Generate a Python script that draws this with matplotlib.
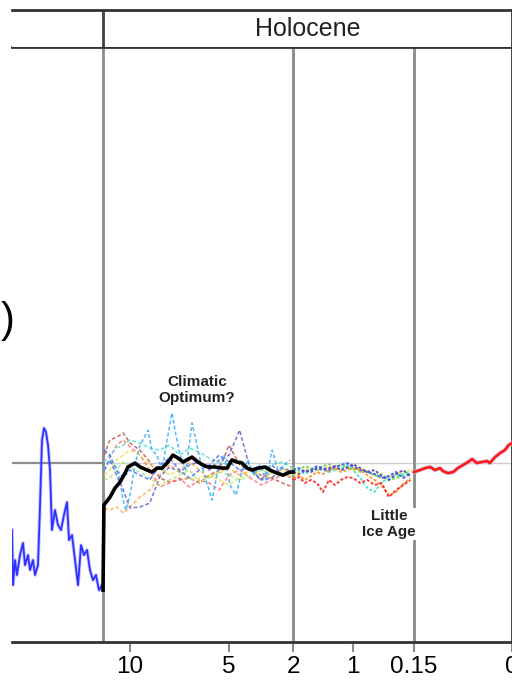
import numpy as np
import matplotlib.pyplot as plt

plt.rcParams['font.family'] = ['Liberation Sans', 'DejaVu Sans']

# broken time axis: thousands of years ago -> position along the axis
brk_kyr = [200, 12, 10, 5, 2, 1, 0.15, 0]
brk_pos = [12, 103, 130, 229, 293, 353, 414, 512]


# increasing in kyr, the axis itself is inverted below
def fwd(k):
    return 524 - np.interp(-np.asarray(k, float), [-b for b in brk_kyr], brk_pos)


def inv(p):
    return np.interp(524 - np.asarray(p, float), brk_pos, brk_kyr)


# ice core (previous panel), kyr ago / anomaly degC
ice_t = [200, 197.9, 193.8, 189.7, 183.5, 177.3, 173.1, 166.9, 162.8, 156.6, 152.5, 146.3,
         142.2, 138.0, 133.9, 129.8, 125.6, 121.5, 117.4, 111.2, 105.0, 98.8, 92.6, 86.4,
         82.2, 76.0, 69.8, 63.6, 57.4, 51.2, 45.0, 38.9, 32.7, 26.5, 20.3, 14.1]
ice_v = [-3.72, -6.78, -5.39, -6.22, -5.11, -4.44, -5.67, -5.11, -5.94, -5.39, -6.22, -5.67,
         -2.44, 1.28, 1.94, 1.72, 1.0, -0.39, -3.72, -2.61, -3.44, -3.72, -2.89, -2.17,
         -4.28, -4.0, -5.39, -6.78, -4.56, -5.11, -4.83, -5.94, -6.5, -6.22, -7.06, -6.78]

# holocene proxies 12 - 2 kyr
holo_t = [11.9, 11.5, 11, 10.5, 10, 9.5, 9, 8.5, 8, 7.5, 7, 6.5, 6, 5.5, 5, 4.5, 4, 3.5, 3, 2.5, 2.0]
firebrick = [0.44, 1.28, 1.44, 1.67, 1.11, 0.72, 0.06, -0.83, -1.06, -0.94, -0.83, -1.11, -0.67,
             -0.39, 1.0, -0.11, -0.39, -0.67, -0.83, -1.11, -1.33]
salmon = [-0.39, 0.28, 1.0, 1.28, 0.89, 0.44, -0.39, -1.33, -1.11, -0.83, -1.33, -0.94, -1.11,
          -1.5, -0.67, -0.39, -0.83, -1.22, -0.94, -0.67, -0.83]
orange = [-2.5, -2.61, -2.44, -2.78, -2.44, -1.89, -1.5, -0.67, -0.11, -0.39, 0.06, -0.39, -0.83,
          -0.5, -0.28, -0.67, -0.39, -0.94, -0.5, -0.39, -0.28]
slate = [-0.39, 0.17, -0.67, -1.5, -2.5, -2.44, -2.22, -0.78, -0.22, -0.5, -0.11, 0.06, -0.39,
         0.17, 0.44, 1.83, -0.39, -0.94, -0.11, -0.67, -0.39]
turq = [0.06, 0.44, 0.83, 1.0, 1.28, 1.11, 0.83, 0.72, 1.0, 0.44, 0.83, 0.61, 0.28, 0.06, -0.11,
        0.17, -0.28, -0.39, -0.11, 0.06, -0.28]
yellow = [-0.67, -0.39, 0.17, 0.44, 0.72, 0.44, -0.11, -0.28, -0.67, -0.39, -0.94, -0.83, -0.67,
          -0.94, -1.22, -0.83, -0.39, -0.67, -0.83, -0.5, -0.39]
lime = [-0.94, -0.83, -0.39, 0.06, -0.28, -0.5, -0.83, -1.22, -0.94, -0.67, -0.39, -1.06, -0.83,
        -0.5, -0.67, -0.94, -0.72, -0.39, -0.56, -0.72, -0.67]
blue = [0.72, 0.44, -0.39, -0.83, -0.39, -0.67, -0.94, -0.11, 0.28, -0.39, -0.83, -0.39, -0.11,
        0.44, 0.06, -0.39, -0.28, -0.94, -0.83, -0.28, -0.5]

sky_t = [11.93, 11.48, 11.04, 10.74, 10.52, 10.30, 10.0, 9.75, 9.49, 9.09, 8.89, 8.64, 8.38, 8.13,
         7.88, 7.68, 7.47, 7.17, 6.87, 6.67, 6.46, 6.16, 5.86, 5.56, 5.25, 4.95, 4.67, 4.39, 4.11,
         3.83, 3.55, 3.27, 2.98, 2.70, 2.42, 2.14]
sky_v = [-0.39, 0.17, -0.22, -0.94, -2.06, -2.61, -1.78, -0.11, 1.0, 1.83, 0.72, 0.44, -0.39, 1.28,
         2.78, 1.56, 0.44, -0.39, 2.22, 1.28, 0.17, -0.94, -2.06, -0.39, 0.44, -1.22, -1.78, -0.39,
         0.17, -0.67, -0.11, -0.94, 0.72, -0.39, -0.11, 0.17]

avg_t = [12.0, 11.93, 11.48, 11.11, 10.74, 10.37, 10.15, 9.75, 9.49, 9.14, 8.89, 8.64, 8.38, 8.13,
         7.83, 7.58, 7.32, 6.87, 6.57, 6.31, 6.06, 5.71, 5.35, 5.10, 4.86, 4.63, 4.39, 4.16, 3.92,
         3.64, 3.31, 3.08, 2.75, 2.47, 2.14, 2.0]
avg_v = [-7.06, -2.33, -1.89, -1.39, -1.06, -0.56, -0.22, 0.0, -0.22, -0.39, -0.5, -0.28, -0.28, 0.0,
         0.44, 0.28, 0.06, 0.33, 0.06, -0.11, -0.22, -0.22, -0.28, -0.28, 0.17, 0.06, 0.0, -0.28,
         -0.39, -0.28, -0.22, -0.39, -0.56, -0.67, -0.5, -0.5]

# last two thousand years
mil_t = [2.0, 1.9, 1.8, 1.7, 1.6, 1.5, 1.4, 1.3, 1.2, 1.1, 1.0, 0.9, 0.8, 0.7, 0.6, 0.5, 0.4, 0.3, 0.2]
mil_red = [-0.94, -0.78, -1.11, -0.94, -1.11, -1.61, -0.94, -1.22, -0.94, -0.78, -0.83, -1.11, -0.94,
           -1.22, -1.11, -1.89, -1.5, -1.22, -0.94]
mil_yellow = [-0.67, -0.5, -0.39, -0.28, -0.39, -0.22, -0.28, -0.17, -0.11, -0.22, -0.39, -0.28, -0.5,
              -0.67, -0.83, -0.72, -0.61, -0.5, -0.39]
mil_orange = [-0.83, -0.67, -0.94, -0.72, -0.5, -0.61, -0.39, -0.28, -0.5, -0.39, -0.28, -0.39, -0.67,
              -0.94, -1.28, -1.78, -1.61, -1.17, -0.83]
mil_turq = [-0.5, -0.39, -0.61, -0.39, -0.28, -0.39, -0.5, -0.39, -0.28, -0.11, -0.39, -0.83, -1.39,
            -1.61, -1.06, -0.83, -0.72, -0.61, -0.5]
mil_blue = [-0.39, -0.28, -0.5, -0.39, -0.17, -0.28, -0.39, -0.22, -0.11, 0.0, -0.17, -0.39, -0.5,
            -0.61, -0.83, -0.72, -0.5, -0.83, -0.61]
mil_green = [-0.28, -0.39, -0.17, -0.28, -0.39, -0.17, -0.06, -0.28, -0.39, -0.17, -0.28, -0.5, -0.39,
             -0.72, -0.61, -0.94, -0.83, -0.72, -0.5]
mil_purple = [-0.5, -0.61, -0.39, -0.5, -0.28, -0.39, -0.28, -0.17, -0.39, -0.28, -0.06, -0.28, -0.5,
              -0.39, -0.72, -0.94, -0.61, -0.39, -0.72]

# instrumental, years ago
inst_yr = [150, 141, 133, 125, 118, 110, 106, 98, 90, 83, 75, 67, 61, 54, 46, 38, 34, 26, 18, 11, 5, 0]
inst_v = [-0.5, -0.39, -0.28, -0.22, -0.39, -0.28, -0.44, -0.56, -0.5, -0.28, -0.11, 0.06, 0.22, 0.0,
          0.06, 0.11, 0.0, 0.33, 0.56, 0.72, 1.0, 1.11]

tick_kyr = [10, 5, 2, 1, 0.15, 0]
tick_lbl = ['10', '5', '2', '1', '0.15', '0']

fig = plt.figure(figsize=(5.12, 6.88), dpi=100)
ax = fig.add_axes([12 / 512, 46 / 688, 500 / 512, 595 / 688])
hd = fig.add_axes([12 / 512, 641 / 688, 500 / 512, 37 / 688])

for a in (ax, hd):
    a.set_xscale('function', functions=(fwd, inv))
    a.set_xlim(200, 0)

ax.set_ylim(-9.94, 23.11)

# zero lines
ax.plot([200, 12], [0, 0], color='#8c8c8c', lw=1.6, zorder=1)
ax.plot([12, 0], [0, 0], color='#d0d0d0', lw=1.0, zorder=1)

# panel dividers
ax.axvline(12, color='#8a8a8a', lw=2, zorder=1)
ax.axvline(2, color='#8a8a8a', lw=2, zorder=1)
ax.axvline(0.15, color='#8a8a8a', lw=2, zorder=1)

ax.plot(ice_t, ice_v, color='#9090ff', lw=2.6, alpha=0.5, zorder=3)
ax.plot(ice_t, ice_v, color='#1f1fff', lw=1.3, alpha=0.9, zorder=3)

dash = (0, (2.5, 1.5))
for vals, c in [(firebrick, '#c8504a'), (salmon, '#ff7070'), (orange, '#ffaa44'),
                (slate, '#6a5acd'), (turq, '#55e0d0'), (yellow, '#e6e64a'),
                (lime, '#b0e870'), (blue, '#4466ff')]:
    ax.plot(holo_t, vals, color=c, lw=1.1, ls=dash, alpha=0.85, zorder=2)
ax.plot(sky_t, sky_v, color='#3cb4ff', lw=1.1, ls=dash, alpha=0.9, zorder=2)
ax.plot(avg_t, avg_v, color='black', lw=2.6, zorder=5)

dot = (0, (1.5, 1))
for vals, c in [(mil_yellow, '#e8e840'), (mil_green, '#70d050'), (mil_turq, '#40e0c0'),
                (mil_blue, '#2255ff'), (mil_purple, '#6040c0'), (mil_orange, '#ff9020'),
                (mil_red, '#ff2020')]:
    ax.plot(mil_t, vals, color=c, lw=1.4, ls=dot, alpha=0.9, zorder=3)

ax.plot(np.array(inst_yr) / 1000, inst_v, color='#c8c8ff', lw=3.5, alpha=0.6, zorder=3)
ax.plot(np.array(inst_yr) / 1000, inst_v, color='#ff1a1a', lw=2.0, zorder=4)

ax.text(6.62, 4.06, 'Climatic\nOptimum?', ha='center', va='center', fontsize=11,
        fontweight='bold', color='#222222', linespacing=1.15, zorder=6)
ax.text(0.5, -3.39, 'Little\nIce Age', ha='center', va='center', fontsize=11,
        fontweight='bold', color='#222222', linespacing=1.15, zorder=6,
        bbox=dict(facecolor='white', edgecolor='none', pad=1))

ax.set_yticks([])
ax.set_xticks(tick_kyr)
ax.set_xticklabels(tick_lbl, fontsize=17.5)
ax.tick_params(axis='x', direction='out', length=7, width=1.5, color='#8a8a8a', pad=3)
ax.spines['left'].set_visible(False)
for s in ('bottom', 'top', 'right'):
    ax.spines[s].set_color('#333333')
    ax.spines[s].set_linewidth(2)

hd.set_ylim(0, 1)
hd.set_xticks([])
hd.set_yticks([])
hd.spines['left'].set_visible(False)
hd.spines['bottom'].set_visible(False)
for s in ('top', 'right'):
    hd.spines[s].set_color('#333333')
    hd.spines[s].set_linewidth(2)
hd.axvline(12, color='#444444', lw=2)
mid = inv((fwd(12) + fwd(0)) / 2)
hd.text(mid, 0.5, 'Holocene', ha='center', va='center', fontsize=18, color='#222222')

fig.text(0.002, (688 - 321) / 688, ')', fontsize=30, va='center', ha='left', color='black')

fig.savefig('out.png', dpi=100)
